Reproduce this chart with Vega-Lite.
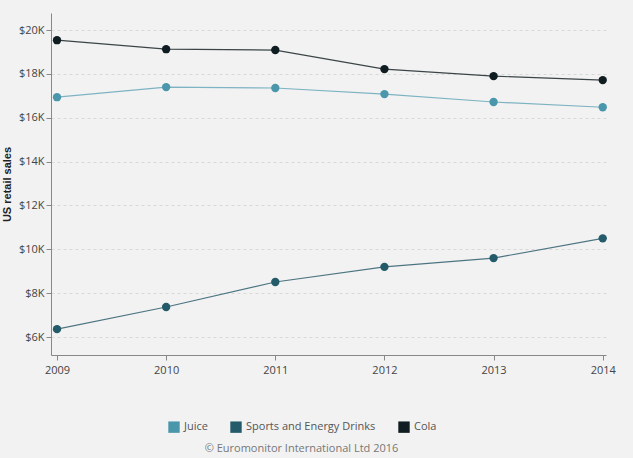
{
  "$schema": "https://vega.github.io/schema/vega-lite/v6.json",
  "autosize": "none",
  "width": 555,
  "height": 342,
  "padding": {"left": 51, "top": 13, "right": 27, "bottom": 103},
  "background": "#f2f2f2",
  "config": {
    "view": {"stroke": null},
    "font": "Open Sans",
    "axis": {"labelFont": "Open Sans", "titleFont": "Liberation Sans"}
  },
  "title": {
    "text": "© Euromonitor International Ltd 2016",
    "orient": "bottom",
    "anchor": "middle",
    "fontSize": 11,
    "fontWeight": "normal",
    "color": "#777",
    "font": "Open Sans",
    "offset": 10,
    "dx": -27
  },
  "data": {
    "values": [
      {"year": 2009, "series": "Juice", "sales": 16940},
      {"year": 2010, "series": "Juice", "sales": 17400},
      {"year": 2011, "series": "Juice", "sales": 17360},
      {"year": 2012, "series": "Juice", "sales": 17080},
      {"year": 2013, "series": "Juice", "sales": 16720},
      {"year": 2014, "series": "Juice", "sales": 16480},
      {"year": 2009, "series": "Sports and Energy Drinks", "sales": 6360},
      {"year": 2010, "series": "Sports and Energy Drinks", "sales": 7370},
      {"year": 2011, "series": "Sports and Energy Drinks", "sales": 8510},
      {"year": 2012, "series": "Sports and Energy Drinks", "sales": 9200},
      {"year": 2013, "series": "Sports and Energy Drinks", "sales": 9600},
      {"year": 2014, "series": "Sports and Energy Drinks", "sales": 10500},
      {"year": 2009, "series": "Cola", "sales": 19540},
      {"year": 2010, "series": "Cola", "sales": 19130},
      {"year": 2011, "series": "Cola", "sales": 19090},
      {"year": 2012, "series": "Cola", "sales": 18220},
      {"year": 2013, "series": "Cola", "sales": 17900},
      {"year": 2014, "series": "Cola", "sales": 17720}
    ]
  },
  "encoding": {
    "x": {
      "field": "year", "type": "quantitative",
      "scale": {"domain": [2008.945, 2014.03], "nice": false, "zero": false},
      "axis": {"values": [2009, 2010, 2011, 2012, 2013, 2014], "format": "d", "title": null, "grid": false,
        "domainColor": "#888", "tickColor": "#888", "labelColor": "#444", "labelFontSize": 11, "labelPadding": 4}
    },
    "y": {
      "field": "sales", "type": "quantitative",
      "scale": {"domain": [5180, 20780], "nice": false, "zero": false},
      "axis": {"values": [6000, 8000, 10000, 12000, 14000, 16000, 18000, 20000],
        "labelExpr": "'$' + datum.value/1000 + 'K'",
        "title": "US retail sales", "titleFontSize": 11, "titleFontWeight": "bold", "titleColor": "#222", "titlePadding": 6,
        "grid": true, "gridDash": [3, 3], "gridColor": "#d8d8d8",
        "domainColor": "#888", "tickColor": "#888", "labelColor": "#444", "labelFontSize": 11}
    }
  },
  "layer": [
    {
      "mark": {"type": "line", "strokeWidth": 1.2},
      "encoding": {
        "color": {
          "field": "series", "type": "nominal",
          "scale": {"domain": ["Juice", "Sports and Energy Drinks", "Cola"], "range": ["#7db3c2", "#4d7581", "#3b4447"]},
          "legend": null
        }
      }
    },
    {
      "mark": {"type": "circle", "size": 70, "opacity": 1},
      "encoding": {
        "color": {
          "field": "series", "type": "nominal",
          "scale": {"domain": ["Juice", "Sports and Energy Drinks", "Cola"], "range": ["#4a97ab", "#245b6a", "#0f1d22"]},
          "legend": {"title": null, "orient": "none", "legendX": 117, "legendY": 408, "direction": "horizontal", "symbolType": "square", "symbolSize": 130,
            "symbolStrokeWidth": 0, "symbolOpacity": 1, "labelFontSize": 11, "labelColor": "#555", "columnPadding": 22}
        }
      }
    }
  ],
  "resolve": {"scale": {"color": "independent"}, "legend": {"color": "independent"}}
}
